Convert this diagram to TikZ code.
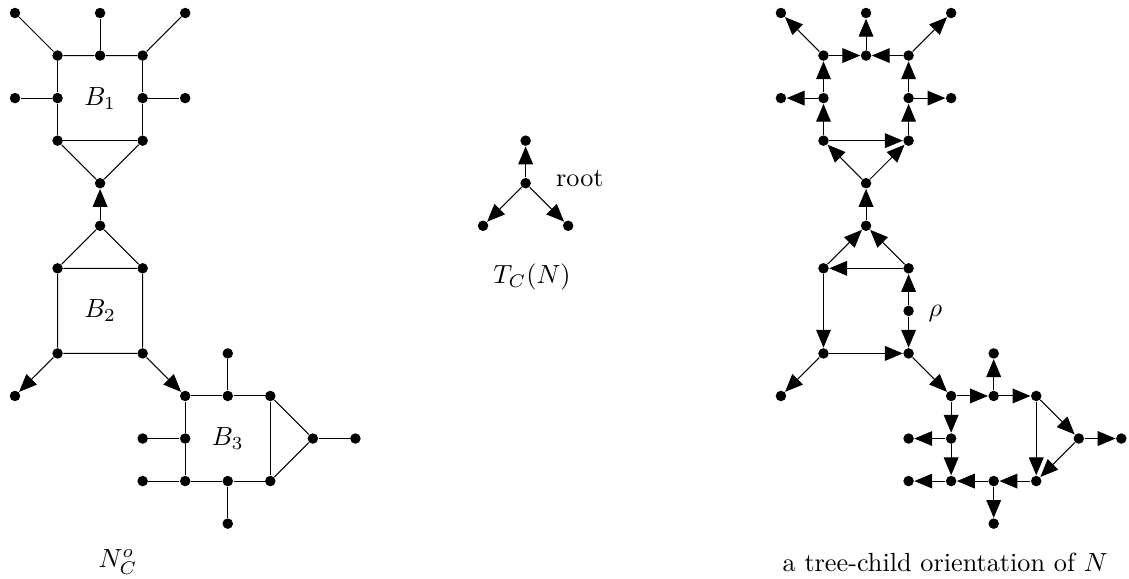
\documentclass[tikz,border=0pt]{standalone}
\usepackage{amsmath}
\usetikzlibrary{arrows.meta}

\begin{document}
\begin{tikzpicture}[x=0.57cm, y=-0.57cm,
dot/.style={circle, fill, inner sep=0pt, minimum size=4pt},
arr/.style={-{Triangle[length=6.8pt, width=5.6pt]}}]
\useasboundingbox (-0.3525,-0.3055) rectangle (26.18,13.28);
% vertices of N_C^o (n) and of its orientation (o), same grid
\foreach \v/\x/\y in {1/0/0, 2/2/0, 3/4/0, 4/1/1, 5/2/1, 6/3/1, 7/0/2, 8/1/2, 9/3/2, 10/4/2,
  11/1/3, 12/3/3, 13/2/4, 14/2/5, 15/1/6, 16/3/6, 17/1/8, 18/3/8, 19/0/9, 20/4/9, 21/5/9,
  22/6/9, 23/5/8, 24/3/10, 25/4/10, 26/7/10, 27/8/10, 28/3/11, 29/4/11, 30/5/11, 31/6/11, 32/5/12}
{
  \node[dot] (n\v) at (\x,\y) {};
  \node[dot] (o\v) at (\x+18,\y) {};
}
\node[dot] (rho) at (21,7) {};
% tree T_C(N)
\node[dot] (root) at (12,4) {};
\node[dot] (tup) at (12,3) {};
\node[dot] (tleft) at (11,5) {};
\node[dot] (tright) at (13,5) {};

% N_C^o
\draw (n1)--(n4)--(n5)--(n6)--(n3);
\draw (n2)--(n5);
\draw (n4)--(n8)--(n11)--(n12)--(n9)--(n6);
\draw (n7)--(n8);
\draw (n9)--(n10);
\draw (n11)--(n13)--(n12);
\draw (n15)--(n14)--(n16)--(n15)--(n17)--(n18)--(n16);
\draw (n20)--(n21)--(n22)--(n31)--(n30)--(n29)--(n25)--(n20);
\draw (n21)--(n23);
\draw (n24)--(n25);
\draw (n28)--(n29);
\draw (n30)--(n32);
\draw (n22)--(n26)--(n31);
\draw (n26)--(n27);
\draw[arr] (n14)--(n13);
\draw[arr] (n17)--(n19);
\draw[arr] (n18)--(n20);
\node at (2,2) {$B_1$};
\node at (2,7) {$B_2$};
\node at (5,10) {$B_3$};
\node at (2.42,12.9) {$N_C^o$};

% T_C(N)
\draw[arr] (root)--(tup);
\draw[arr] (root)--(tleft);
\draw[arr] (root)--(tright);
\node[anchor=west] (rootlabel) at (12.5,3.88) {root};
\node at (12.15,6.2) {$T_C(N)$};

% tree-child orientation
\foreach \s/\t in {13/11, 13/12, 11/12, 11/8, 8/7, 8/4, 4/1, 4/5, 12/9, 9/10, 9/6, 6/5, 6/3, 5/2,
  14/13, 15/14, 16/14, 16/15, 15/17, 17/18, 17/19, 18/20,
  20/21, 21/23, 21/22, 22/26, 26/27, 26/31, 22/31, 31/30, 30/32, 30/29, 29/28, 20/25, 25/24, 25/29}
  \draw[arr] (o\s)--(o\t);
\draw[arr] (rho)--(o16);
\draw[arr] (rho)--(o18);
\node[anchor=west] at (21.25,7.05) {$\rho$};
\node at (21.86,12.9) {a tree-child orientation of $N$};
\end{tikzpicture}
\end{document}
